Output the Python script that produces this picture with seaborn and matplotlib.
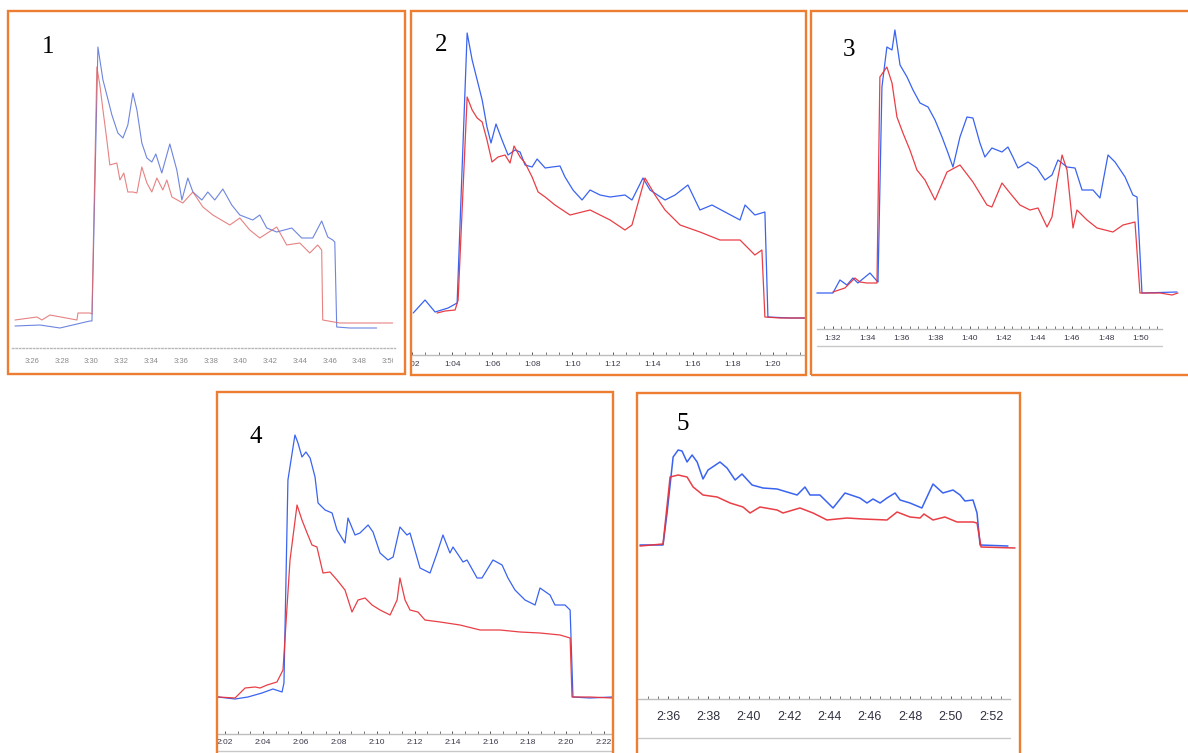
# Cinco registros (azul / rojo) en paneles con marco naranja
import matplotlib
matplotlib.use("Agg")
import numpy as np
import matplotlib.pyplot as plt
import seaborn as sns
from matplotlib.patches import Rectangle
from matplotlib.lines import Line2D
from matplotlib.ticker import FuncFormatter, FixedLocator
from matplotlib.transforms import Bbox, TransformedBbox

# ---------------- datos (tiempo en minutos, nivel de señal) ----------------
# Panel 1  (3:26 - 3:50)
P1_T_BLUE = [204.86, 206.54, 207.88, 209.89, 210.03, 210.43, 210.77, 211.03, 211.37, 211.77,
             212.11, 212.44, 212.78, 213.05, 213.38, 213.72, 214.05, 214.32, 214.72, 215.26,
             215.73, 216.07, 216.47, 216.81, 217.41, 217.81, 218.28, 218.82, 219.42, 219.96,
             220.83, 221.30, 221.77, 222.44, 223.45, 224.12, 224.86, 225.46, 225.87, 226.20,
             226.34, 226.47, 227.34, 229.15]
P1_V_BLUE = [22, 23, 20, 27, 27, 301, 268, 253, 233, 215,
             210, 223, 255, 238, 205, 190, 186, 194, 175, 204,
             178, 148, 170, 156, 148, 156, 148, 159, 143, 133,
             128, 133, 120, 116, 120, 110, 110, 127, 111, 108,
             106, 21, 20, 20]
P1_T_RED = [204.86, 206.34, 206.67, 207.21, 209.02, 209.09, 209.89, 210.03, 210.36, 210.56,
            210.77, 211.03, 211.23, 211.70, 211.91, 212.17, 212.44, 212.78, 213.05, 213.38,
            213.72, 214.05, 214.39, 214.79, 215.06, 215.40, 216.13, 216.81, 217.48, 218.15,
            219.29, 219.96, 220.63, 221.30, 222.44, 223.11, 223.99, 224.66, 225.19, 225.46,
            225.53, 226.67, 230.23]
P1_V_RED = [28, 31, 28, 33, 28, 35, 35, 34, 281, 263,
            238, 208, 183, 185, 168, 175, 156, 156, 155, 181,
            165, 156, 170, 158, 168, 151, 145, 156, 141, 133,
            123, 130, 118, 110, 121, 103, 105, 95, 103, 98,
            28, 25, 25]

# Panel 2  (1:02 - 1:20)
P2_T_BLUE = [62.06, 62.65, 63.15, 63.80, 64.25, 64.75, 65.00, 65.25, 65.50, 65.74,
             65.94, 66.19, 66.49, 66.79, 67.14, 67.39, 67.64, 67.99, 68.24, 68.64,
             68.99, 69.38, 69.63, 70.03, 70.48, 70.88, 71.38, 71.88, 72.62, 72.97,
             73.52, 73.87, 74.62, 75.12, 75.76, 76.36, 76.96, 77.61, 78.36, 78.61,
             79.10, 79.60, 79.75, 80.85, 81.60]
P2_V_BLUE = [42, 55, 43, 47, 52, 322, 295, 275, 255, 228,
             212, 231, 215, 200, 205, 203, 190, 188, 196, 187,
             188, 189, 178, 165, 155, 165, 160, 158, 160, 155,
             177, 165, 155, 160, 170, 145, 150, 143, 135, 150,
             140, 143, 38, 37, 37]
P2_T_RED = [63.25, 63.65, 64.15, 64.30, 64.75, 65.00, 65.25, 65.50, 65.74, 65.99,
            66.29, 66.64, 66.89, 67.09, 67.39, 67.64, 67.99, 68.29, 68.64, 69.13,
            69.88, 70.88, 71.88, 72.62, 72.97, 73.62, 74.12, 74.62, 75.37, 76.36,
            77.36, 78.36, 79.10, 79.45, 79.60, 80.35, 81.60]
P2_V_RED = [42, 44, 45, 55, 258, 245, 237, 233, 215, 193,
            198, 200, 192, 209, 198, 192, 178, 163, 158, 150,
            140, 145, 135, 125, 130, 177, 160, 145, 130, 123,
            115, 115, 100, 105, 38, 37, 37]

# Panel 3  (1:32 - 1:50)
P3_T_BLUE = [91.06, 92.00, 92.41, 92.82, 93.17, 93.46, 94.17, 94.58, 94.64, 94.87,
             95.16, 95.46, 95.63, 95.93, 96.34, 96.69, 97.10, 97.57, 97.98, 98.39,
             98.74, 99.03, 99.44, 99.85, 100.20, 100.61, 100.90, 101.31, 101.90, 102.25,
             102.54, 102.84, 103.42, 103.95, 104.42, 104.83, 105.18, 105.71, 106.18, 106.59,
             107.23, 107.64, 108.11, 108.52, 109.11, 109.57, 109.81, 110.10, 112.15]
P3_V_BLUE = [36, 36, 49, 44, 51, 46, 56, 48, 47, 242,
             282, 279, 299, 264, 252, 239, 226, 222, 209, 192,
             176, 162, 192, 212, 211, 186, 172, 181, 177, 182,
             172, 161, 167, 161, 149, 154, 169, 162, 161, 139,
             139, 131, 174, 167, 152, 134, 132, 36, 37]
P3_T_RED = [92.00, 92.70, 93.29, 93.58, 93.99, 94.58, 94.75, 95.16, 95.46, 95.75,
            96.10, 96.51, 96.92, 97.39, 97.98, 98.68, 99.44, 100.20, 101.02, 101.31,
            101.90, 102.37, 102.95, 103.54, 104.01, 104.54, 104.83, 105.12, 105.42, 105.71,
            106.06, 106.29, 106.88, 107.47, 108.40, 108.99, 109.69, 109.98, 111.16, 111.86,
            112.21]
P3_V_RED = [37, 41, 51, 47, 46, 46, 252, 262, 246, 212,
            196, 179, 159, 149, 129, 157, 164, 147, 124, 122,
            146, 136, 124, 119, 121, 102, 112, 146, 174, 159,
            101, 119, 109, 101, 97, 104, 107, 36, 36, 34,
            36]

# Panel 4  (2:02 - 2:22)
P4_T_BLUE = [121.63, 122.53, 123.21, 123.95, 124.53, 125.01, 125.11, 125.32, 125.69, 125.85,
             126.06, 126.27, 126.49, 126.75, 126.91, 127.28, 127.65, 127.91, 128.33, 128.49,
             128.86, 129.12, 129.55, 129.81, 130.18, 130.60, 130.87, 131.23, 131.60, 131.76,
             132.29, 132.82, 133.19, 133.50, 133.87, 134.03, 134.56, 134.77, 135.30, 135.56,
             136.14, 136.62, 136.93, 137.30, 137.83, 138.36, 138.62, 139.15, 139.41, 139.94,
             140.21, 140.36, 141.26, 142.42]
P4_V_BLUE = [37, 35, 37, 41, 45, 42, 51, 254, 299, 291,
             277, 282, 276, 257, 231, 224, 221, 204, 191, 216,
             199, 201, 209, 202, 181, 174, 177, 207, 199, 201,
             166, 161, 181, 199, 181, 187, 172, 174, 156, 156,
             174, 169, 156, 144, 134, 129, 146, 139, 129, 129,
             124, 37, 36, 37]
P4_T_RED = [121.63, 122.53, 123.06, 123.58, 123.85, 124.22, 124.74, 125.06, 125.43, 125.80,
            126.06, 126.33, 126.59, 126.85, 127.01, 127.17, 127.54, 127.91, 128.33, 128.70,
            129.02, 129.39, 129.76, 130.18, 130.71, 131.08, 131.23, 131.50, 131.76, 132.18,
            132.55, 133.35, 134.40, 135.46, 136.51, 137.57, 138.62, 139.68, 140.21, 140.31,
            141.26, 142.42]
P4_V_RED = [37, 36, 46, 47, 46, 49, 52, 64, 174, 229,
            214, 201, 189, 187, 174, 161, 162, 154, 144, 122,
            134, 136, 129, 124, 119, 134, 156, 134, 124, 122,
            114, 112, 109, 104, 104, 102, 101, 99, 96, 37,
            37, 36]

# Panel 5  (2:36 - 2:52)
P5_T_BLUE = [154.61, 155.75, 155.95, 156.25, 156.50, 156.69, 156.94, 157.19, 157.44, 157.73,
             157.98, 158.57, 158.92, 159.32, 159.66, 160.16, 160.70, 161.40, 161.89, 162.39,
             162.78, 163.03, 163.52, 164.17, 164.76, 165.50, 165.85, 166.15, 166.50, 166.84,
             167.24, 167.49, 167.98, 168.57, 169.12, 169.61, 170.11, 170.46, 170.70, 171.10,
             171.30, 171.45, 172.83]
P5_V_BLUE = [154, 154, 186, 242, 249, 248, 237, 244, 237, 220,
             229, 237, 231, 219, 225, 214, 211, 210, 207, 204,
             212, 204, 204, 191, 206, 201, 196, 200, 196, 201,
             206, 199, 196, 191, 215, 206, 209, 204, 198, 199,
             186, 154, 153]
P5_T_RED = [154.61, 155.75, 156.10, 156.50, 156.94, 157.24, 157.73, 158.43, 159.07, 159.71,
            160.06, 160.55, 161.40, 161.69, 162.53, 163.18, 163.87, 164.86, 165.65, 166.84,
            167.34, 167.98, 168.48, 168.67, 169.12, 169.71, 170.31, 171.10, 171.30, 171.50,
            173.18]
P5_V_RED = [153, 155, 222, 224, 222, 212, 204, 202, 196, 192,
            186, 192, 189, 186, 191, 186, 179, 181, 180, 179,
            187, 182, 181, 185, 179, 182, 177, 177, 176, 152,
            151]

PANEL_NUMBERS = ["1", "2", "3", "4", "5"]

# ---------------- estilo ----------------
W, H = 1188, 753
ORANGE = "#ED7D31"
BLUE = "#2F5BF0"
RED = "#E8343C"

sns.set_theme(style="white")
plt.rcParams["font.family"] = ["Liberation Sans Narrow", "Liberation Sans", "DejaVu Sans"]


def fig_rect(left, top, right, bottom):
    """Convierte una caja en pixeles (origen arriba-izquierda) a coordenadas de figura"""
    return [left / W, 1 - bottom / H, (right - left) / W, (bottom - top) / H]


def hmm(m, pos=None):
    m = int(round(m))
    return f"{m // 60}:{m % 60:02d}"


fig = plt.figure(figsize=(W / 100, H / 100), dpi=100)
fig.patch.set_facecolor("white")


def draw_panel(series, frame, plot, xlim, ticks, minor, spine, num, num_xy,
               lw=0.9, label_size=6.0, label_color="#3a3a4a", pad=4.0,
               axis_style="-", axis_color="#bdbdbd", clip_x=None, base_line=None):
    # marco naranja
    fl, ft, fr, fb = frame
    fig.patches.append(Rectangle((fl / W, 1 - fb / H), (fr - fl) / W, (fb - ft) / H,
                                 transform=fig.transFigure, fill=False,
                                 ec=ORANGE, lw=1.7, zorder=5))
    ax = fig.add_axes(fig_rect(*plot))
    ax.set_facecolor("none")
    for t, v, c, a in series:
        sns.lineplot(x=t, y=v, ax=ax, color=c, lw=lw, alpha=a,
                     sort=False, estimator=None)
    ax.set_xlim(*xlim)
    ax.set_ylim(0, plot[3] - plot[1])
    ax.set_ylabel("")
    ax.set_xlabel("")
    ax.set_yticks([])
    for s in ["left", "right", "top"]:
        ax.spines[s].set_visible(False)
    ax.spines["bottom"].set_color(axis_color)
    ax.spines["bottom"].set_linewidth(1.0)
    ax.spines["bottom"].set_linestyle(axis_style)
    ax.spines["bottom"].set_bounds(*spine)
    ax.xaxis.set_major_locator(FixedLocator(ticks))
    ax.xaxis.set_major_formatter(FuncFormatter(hmm))
    if minor:
        # marcas menores solo dentro del tramo dibujado del eje
        k0 = np.ceil((spine[0] - ticks[0]) / minor)
        k1 = np.floor((spine[1] - ticks[0]) / minor)
        ax.xaxis.set_minor_locator(FixedLocator(ticks[0] + np.arange(k0, k1 + 1) * minor))
        ax.tick_params(axis="x", which="minor", bottom=True, length=2,
                       width=0.7, color="#777777", direction="in")
    ax.tick_params(axis="x", which="major", bottom=True, length=2.5 if minor else 0,
                   width=0.7, color="#555555", direction="in",
                   labelsize=label_size, labelcolor=label_color, pad=pad)
    if clip_x is not None:
        box = TransformedBbox(Bbox([[clip_x[0] / W, 0], [clip_x[1] / W, 1]]),
                              fig.transFigure)
        for lbl in ax.get_xticklabels():
            lbl.set_clip_box(box)
            lbl.set_clip_on(True)
    if base_line is not None:
        x1, x2, y = base_line
        fig.add_artist(Line2D([x1 / W, x2 / W], [1 - y / H, 1 - y / H],
                              transform=fig.transFigure, color="#c8c8c8", lw=1.0))
    fig.text(num_xy[0] / W, 1 - num_xy[1] / H, num, ha="center", va="center",
             fontsize=18, family=["Liberation Serif", "DejaVu Serif"], color="black")
    return ax


# Panel 1
draw_panel([(P1_T_BLUE, P1_V_BLUE, "#5570DA", 0.85), (P1_T_RED, P1_V_RED, "#E06464", 0.8)],
           frame=(8, 11, 405, 374), plot=(12, 12, 400, 348),
           xlim=(204.66, 230.72), ticks=list(range(206, 231, 2)), minor=None,
           spine=(204.66, 230.4), num=PANEL_NUMBERS[0], num_xy=(48, 47),
           lw=0.8, label_size=5.5, label_color="#8a8a8a", pad=7,
           axis_style=(0, (1, 1.5)), axis_color="#b8b8b8", clip_x=(10, 393))

# Panel 2
draw_panel([(P2_T_BLUE, P2_V_BLUE, BLUE, 0.95), (P2_T_RED, P2_V_RED, RED, 0.95)],
           frame=(411, 11, 806, 375), plot=(412, 12, 805, 355),
           xlim=(62.0, 81.6), ticks=list(range(62, 81, 2)), minor=2 / 3,
           spine=(62.0, 81.6), num=PANEL_NUMBERS[1], num_xy=(441, 45),
           clip_x=(412, 805))

# Panel 3
draw_panel([(P3_T_BLUE, P3_V_BLUE, BLUE, 0.95), (P3_T_RED, P3_V_RED, RED, 0.95)],
           frame=(811, 11, 1195, 375), plot=(815, 12, 1185, 329),
           xlim=(90.95, 112.62), ticks=list(range(92, 111, 2)), minor=0.5,
           spine=(91.06, 111.27), num=PANEL_NUMBERS[2], num_xy=(849, 50),
           base_line=(817, 1162, 346))

# Panel 4
draw_panel([(P4_T_BLUE, P4_V_BLUE, BLUE, 0.95), (P4_T_RED, P4_V_RED, RED, 0.95)],
           frame=(217, 392, 613, 760), plot=(218, 394, 612, 734),
           xlim=(121.63, 142.42), ticks=list(range(122, 143, 2)), minor=2 / 3,
           spine=(121.63, 142.42), num=PANEL_NUMBERS[3], num_xy=(256, 437),
           pad=3.5, base_line=(217, 613, 751))

# Panel 5
draw_panel([(P5_T_BLUE, P5_V_BLUE, BLUE, 0.95), (P5_T_RED, P5_V_RED, RED, 0.95)],
           frame=(637, 393, 1020, 760), plot=(639, 395, 1017, 699),
           xlim=(154.56, 173.28), ticks=list(range(156, 173, 2)), minor=0.5,
           spine=(154.51, 172.93), num=PANEL_NUMBERS[4], num_xy=(683, 424),
           lw=1.1, label_size=9, label_color="#303040", pad=9,
           base_line=(638, 1010, 738))

fig.savefig("out.png", dpi=100, facecolor="white")
